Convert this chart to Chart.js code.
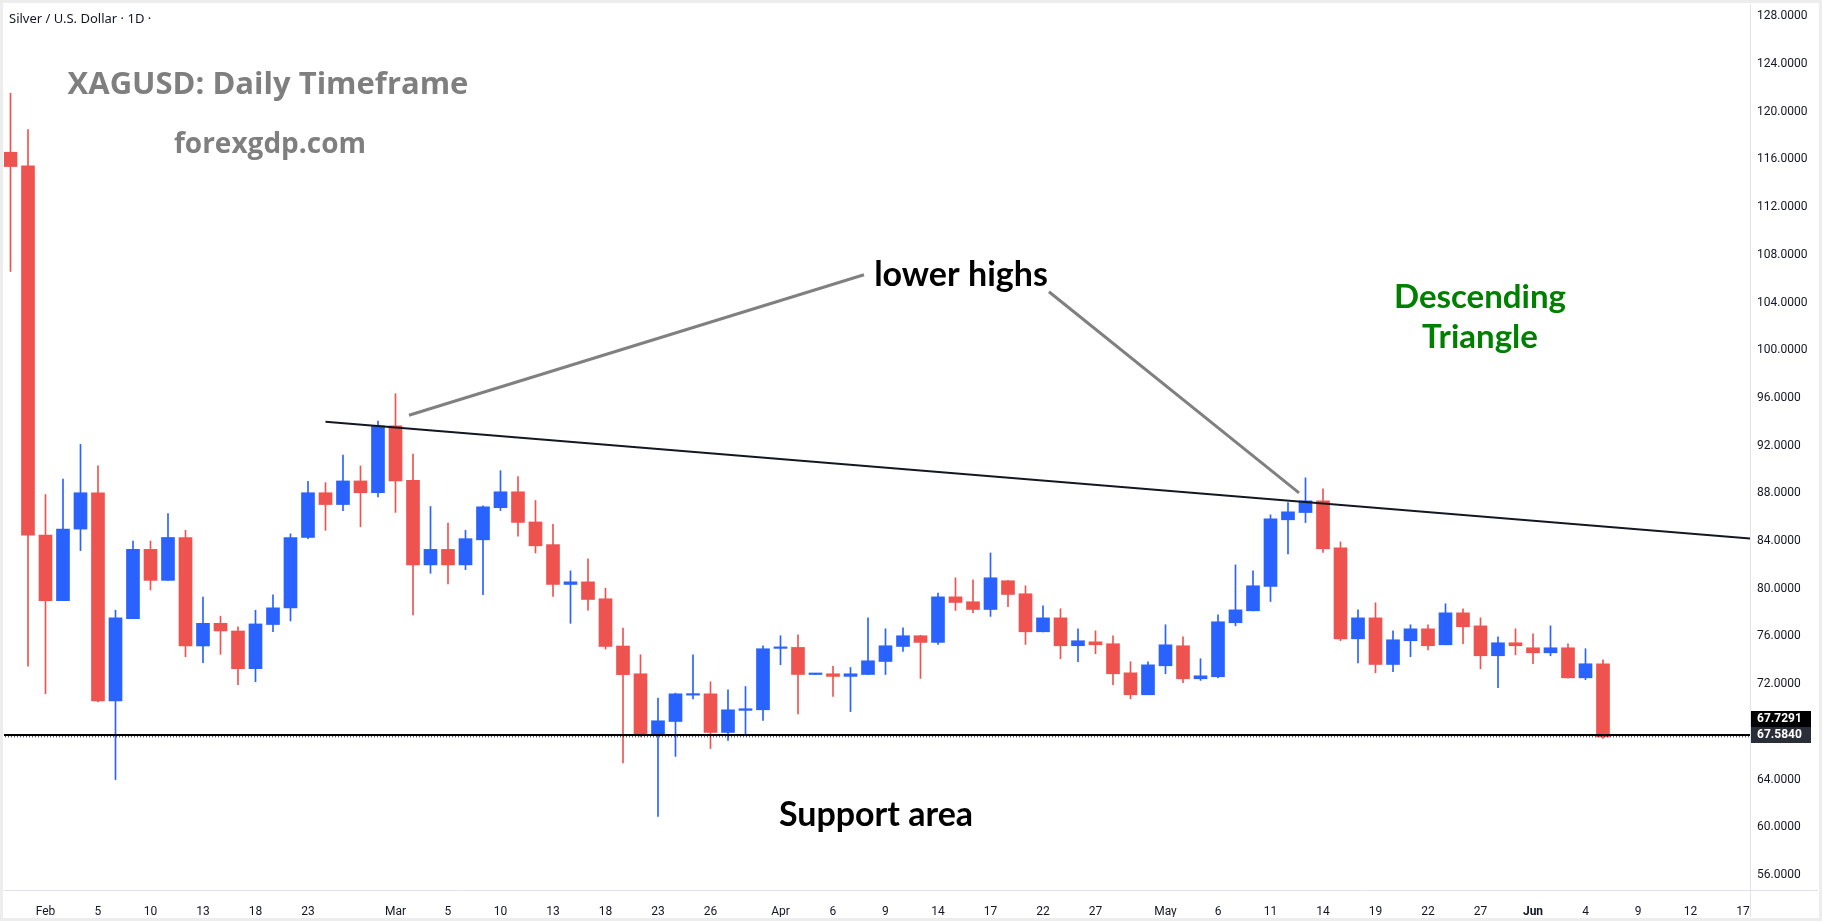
<!DOCTYPE html>
<html>
<head>
<meta charset="utf-8">
<title>XAGUSD Daily</title>
<script src="https://cdn.jsdelivr.net/npm/chart.js@4.4.1/dist/chart.umd.min.js"></script>
<style>
html, body { margin: 0; padding: 0; background: #fff; }
#wrap { position: relative; width: 1822px; height: 921px; }
</style>
</head>
<body>
<div id="wrap"><canvas id="xagChart"></canvas></div>
<script>
// trading days shown on the chart (Jan 29 .. Jun 5)
const days = [
    'Jan 29', 'Jan 30',
    'Feb 2', 'Feb 3', 'Feb 4', 'Feb 5', 'Feb 6', 'Feb 9', 'Feb 10', 'Feb 11', 'Feb 12', 'Feb 13',
    'Feb 16', 'Feb 17', 'Feb 18', 'Feb 19', 'Feb 20', 'Feb 23', 'Feb 24', 'Feb 25', 'Feb 26', 'Feb 27',
    'Mar 2', 'Mar 3', 'Mar 4', 'Mar 5', 'Mar 6', 'Mar 9', 'Mar 10', 'Mar 11', 'Mar 12', 'Mar 13',
    'Mar 16', 'Mar 17', 'Mar 18', 'Mar 19', 'Mar 20', 'Mar 23', 'Mar 24', 'Mar 25', 'Mar 26', 'Mar 27',
    'Mar 30', 'Mar 31', 'Apr 1', 'Apr 2', 'Apr 3', 'Apr 6', 'Apr 7', 'Apr 8', 'Apr 9', 'Apr 10',
    'Apr 13', 'Apr 14', 'Apr 15', 'Apr 16', 'Apr 17', 'Apr 20', 'Apr 21', 'Apr 22', 'Apr 23', 'Apr 24',
    'Apr 27', 'Apr 28', 'Apr 29', 'Apr 30', 'May 1', 'May 4', 'May 5', 'May 6', 'May 7', 'May 8',
    'May 11', 'May 12', 'May 13', 'May 14', 'May 15', 'May 18', 'May 19', 'May 20', 'May 21', 'May 22',
    'May 25', 'May 26', 'May 27', 'May 28', 'May 29', 'Jun 1', 'Jun 2', 'Jun 3', 'Jun 4', 'Jun 5'
];

const open = [
    116.6, 115.46, 84.5, 79.0, 85.0, 88.05, 70.6, 77.5, 83.3, 80.7,
    84.3, 75.2, 77.1, 76.46, 73.3, 77.0, 78.4, 84.3, 88.05, 87.06,
    89.04, 88.05, 93.66, 89.1, 82.0, 83.3, 82.0, 84.1, 86.8, 88.13,
    85.6, 83.7, 80.36, 80.58, 79.16, 75.2, 72.87, 67.76, 68.87, 71.08,
    71.19, 67.95, 69.8, 69.85, 75.0, 75.08, 72.81, 72.87, 72.65, 72.81,
    73.9, 75.16, 76.06, 75.5, 79.32, 78.91, 78.26, 80.67, 79.58, 76.39,
    77.56, 75.22, 75.55, 75.39, 72.95, 71.11, 73.54, 75.22, 72.45, 72.62,
    77.15, 78.15, 80.19, 85.78, 86.39, 87.37, 83.43, 75.8, 77.56, 73.65,
    75.64, 76.64, 75.3, 77.98, 76.89, 74.38, 75.47, 75.05, 74.63, 75.05,
    72.53, 73.71
];
const high = [
    121.55, 118.5, 87.9, 89.2, 92.1, 90.3, 78.2, 84.0, 84.0, 86.3,
    84.9, 79.3, 77.7, 76.8, 78.2, 79.5, 84.6, 89.0, 88.9, 91.2,
    90.3, 94.06, 96.35, 91.3, 86.9, 85.5, 84.9, 86.95, 89.9, 89.4,
    87.4, 85.4, 81.5, 82.5, 80.05, 76.7, 74.46, 70.83, 71.25, 74.46,
    72.2, 71.53, 71.8, 75.22, 76.06, 76.14, 72.9, 73.49, 73.4, 77.56,
    76.64, 76.73, 76.1, 79.63, 80.92, 80.75, 83.0, 80.7, 80.25, 78.57,
    78.32, 76.64, 76.47, 76.06, 73.88, 73.88, 76.98, 75.97, 74.13, 77.82,
    82.0, 81.5, 86.2, 87.23, 89.3, 88.38, 83.93, 78.23, 78.82, 76.47,
    76.98, 76.98, 78.74, 78.32, 77.56, 75.97, 76.64, 76.22, 76.89, 75.39,
    74.97, 74.04
];
const low = [
    106.6, 73.5, 71.2, 79.0, 83.2, 70.5, 64.0, 77.5, 79.9, 80.7,
    74.3, 73.8, 74.5, 71.95, 72.2, 76.4, 77.3, 84.2, 84.9, 86.55,
    85.2, 87.7, 86.4, 77.8, 81.3, 80.4, 81.6, 79.5, 86.56, 84.4,
    83.0, 79.35, 77.1, 78.2, 74.94, 65.4, 67.6, 60.9, 65.94, 70.77,
    66.6, 67.28, 67.67, 68.96, 73.63, 69.5, 72.8, 70.97, 69.7, 72.8,
    72.81, 74.74, 72.48, 75.33, 78.18, 78.0, 77.68, 78.5, 75.33, 76.39,
    74.13, 73.88, 74.55, 71.95, 70.77, 71.11, 72.87, 72.12, 72.31, 72.53,
    76.89, 78.15, 78.93, 82.93, 85.55, 83.04, 75.64, 73.79, 72.95, 73.04,
    74.3, 74.88, 75.3, 75.39, 73.29, 71.7, 74.46, 73.71, 74.38, 72.5,
    72.37, 67.45
];
const close = [
    115.4, 84.5, 79.0, 85.0, 88.05, 70.6, 77.56, 83.3, 80.7, 84.3,
    75.2, 77.1, 76.46, 73.3, 77.05, 78.4, 84.3, 88.05, 87.06, 89.04,
    88.05, 93.66, 89.04, 82.0, 83.3, 82.0, 84.2, 86.87, 88.13, 85.56,
    83.6, 80.36, 80.58, 79.1, 75.16, 72.8, 67.84, 68.93, 71.19, 71.19,
    67.95, 69.85, 69.94, 74.97, 75.08, 72.81, 72.87, 72.65, 72.87, 73.96,
    75.22, 76.06, 75.5, 79.32, 78.85, 78.26, 80.92, 79.52, 76.39, 77.56,
    75.22, 75.64, 75.3, 72.87, 71.11, 73.62, 75.3, 72.45, 72.7, 77.23,
    78.23, 80.25, 85.86, 86.45, 87.37, 83.35, 75.8, 77.56, 73.65, 75.72,
    76.64, 75.22, 77.98, 76.81, 74.38, 75.47, 75.22, 74.63, 75.05, 72.53,
    73.71, 67.58
];

// time axis labels (slot index -> text), slots past Jun 5 are empty future days
const tickPos = [2, 5, 8, 11, 14, 17, 22, 25, 28, 31, 34, 37, 40, 44, 47, 50, 53, 56, 59, 62, 66, 69, 72, 75, 78, 81, 84, 87, 90, 93, 96, 99];
const tickText = ['Feb', '5', '10', '13', '18', '23', 'Mar', '5', '10', '13', '18', '23', '26', 'Apr', '6', '9', '14', '17', '22', '27', 'May', '6', '11', '14', '19', '22', '27', 'Jun', '4', '9', '12', '17'];
const priceTicks = [56, 60, 64, 68, 72, 76, 80, 84, 88, 92, 96, 100, 104, 108, 112, 116, 120, 124, 128];

// drawings
const trendX = [18, 100];
const trendY = [94.0, 84.14];
const arrowAX = [22.77, 48.77];
const arrowAY = [94.55, 106.33];
const arrowBX = [59.34, 73.63];
const arrowBY = [104.9, 88.04];
const supportLevel = 67.7291;
const lastPrice = 67.584;

const UP = '#2962ff';
const DOWN = '#ef5350';
const INK = '#131722';

const candleColor = ctx => close[ctx.dataIndex] >= open[ctx.dataIndex] ? UP : DOWN;

function segment(xs, ys) {
    return xs.map((x, i) => ({ x: x, y: ys[i] }));
}

const overlay = {
    id: 'overlay',
    afterDraw(chart) {
        const ctx = chart.ctx;
        const yS = chart.scales.y;
        ctx.save();

        // axis separators running into the corner
        ctx.strokeStyle = '#e0e3eb';
        ctx.lineWidth = 1;
        ctx.beginPath();
        ctx.moveTo(1750.5, 4); ctx.lineTo(1750.5, 917);
        ctx.moveTo(4, 890.5); ctx.lineTo(1818, 890.5);
        ctx.stroke();

        // outer frame
        ctx.strokeStyle = '#ededed';
        ctx.lineWidth = 3;
        ctx.strokeRect(1.5, 1.5, 1819, 918);

        // header
        ctx.fillStyle = INK;
        ctx.font = '13px "Noto Sans", sans-serif';
        ctx.textAlign = 'left';
        ctx.textBaseline = 'middle';
        ctx.fillText('Silver / U.S. Dollar \u00b7 1D \u00b7', 9, 19);

        ctx.textAlign = 'center';
        ctx.textBaseline = 'alphabetic';
        ctx.fillStyle = '#7f7f7f';
        ctx.font = 'bold 31px "Open Sans", sans-serif';
        ctx.fillText('XAGUSD: Daily Timeframe', 268, 94);
        ctx.font = 'bold 28px "Open Sans", sans-serif';
        ctx.fillText('forexgdp.com', 270, 153);

        ctx.fillStyle = '#000000';
        ctx.font = 'bold 34px Lato, sans-serif';
        ctx.fillText('lower highs', 961, 286);
        ctx.fillText('Support area', 876, 826);

        ctx.fillStyle = '#008000';
        ctx.font = 'bold 33px Lato, sans-serif';
        ctx.fillText('Descending', 1480, 308);
        ctx.fillText('Triangle', 1480, 348);

        // price tags on the right scale
        const tag = (yc, text, bg) => {
            ctx.fillStyle = bg;
            ctx.fillRect(1751, Math.round(yc - 8), 60, 16);
            ctx.fillStyle = '#ffffff';
            ctx.font = 'bold 12px Roboto, sans-serif';
            ctx.textAlign = 'left';
            ctx.textBaseline = 'middle';
            ctx.fillText(text, 1757, Math.round(yc));
        };
        const ySup = yS.getPixelForValue(supportLevel);
        tag(ySup - 16, supportLevel.toFixed(4), '#000000');
        tag(ySup, lastPrice.toFixed(4), '#2a2e39');

        ctx.restore();
    }
};

const chart = new Chart(document.getElementById('xagChart'), {
    data: {
        datasets: [
            {
                type: 'line',
                data: segment(trendX, trendY),
                borderColor: INK,
                borderWidth: 2,
                pointRadius: 0,
                order: 0
            },
            {
                type: 'line',
                data: segment(arrowAX, arrowAY),
                borderColor: '#808080',
                borderWidth: 3,
                pointRadius: 0,
                order: 0
            },
            {
                type: 'line',
                data: segment(arrowBX, arrowBY),
                borderColor: '#808080',
                borderWidth: 3,
                pointRadius: 0,
                order: 0
            },
            {
                type: 'line',
                data: segment([-1, 101], [supportLevel, supportLevel]),
                borderColor: '#000000',
                borderWidth: 2,
                pointRadius: 0,
                order: 0
            },
            {
                type: 'line',
                data: segment([-1, 101], [lastPrice, lastPrice]),
                borderColor: INK,
                borderWidth: 1,
                borderDash: [1, 2],
                pointRadius: 0,
                order: 0
            },
            {
                type: 'bar',
                label: 'body',
                data: open.map((o, i) => ({ x: i, y: [o, close[i]] })),
                backgroundColor: candleColor,
                barThickness: 13,
                minBarLength: 1.5,
                grouped: false,
                order: 1
            },
            {
                type: 'bar',
                label: 'wick',
                data: low.map((l, i) => ({ x: i, y: [l, high[i]] })),
                backgroundColor: candleColor,
                barThickness: 1,
                grouped: false,
                order: 2
            }
        ]
    },
    options: {
        responsive: true,
        maintainAspectRatio: false,
        animation: false,
        layout: { padding: { left: 4, right: 4, top: 4, bottom: 4 } },
        plugins: {
            legend: { display: false },
            tooltip: { enabled: false }
        },
        scales: {
            x: {
                type: 'linear',
                min: -0.371,
                max: 99.4,
                offset: false,
                grid: { display: false, offset: false },
                border: { display: false },
                afterBuildTicks: s => { s.ticks = tickPos.map(v => ({ value: v })); },
                afterFit: s => { s.height = 27; },
                ticks: {
                    autoSkip: false,
                    maxRotation: 0,
                    padding: 7,
                    color: INK,
                    font: ctx => ({ family: 'Roboto, sans-serif', size: 12, weight: tickText[ctx.index] === 'Jun' ? 'bold' : 'normal' }),
                    callback: (v, i) => tickText[i]
                }
            },
            y: {
                type: 'linear',
                position: 'right',
                min: 54.74,
                max: 129.03,
                beginAtZero: false,
                // tick marks stay hidden (grid off); tickLength only spaces the labels
                grid: { display: false, drawTicks: true, tickLength: 7 },
                border: { display: false },
                afterBuildTicks: s => { s.ticks = priceTicks.map(v => ({ value: v })); },
                afterFit: s => { s.width = 68; },
                ticks: {
                    padding: 0,
                    color: INK,
                    font: { family: 'Roboto, sans-serif', size: 12, lineHeight: 0.1 },
                    callback: v => v.toFixed(4)
                }
            }
        }
    },
    plugins: [overlay]
});
</script>
</body>
</html>
